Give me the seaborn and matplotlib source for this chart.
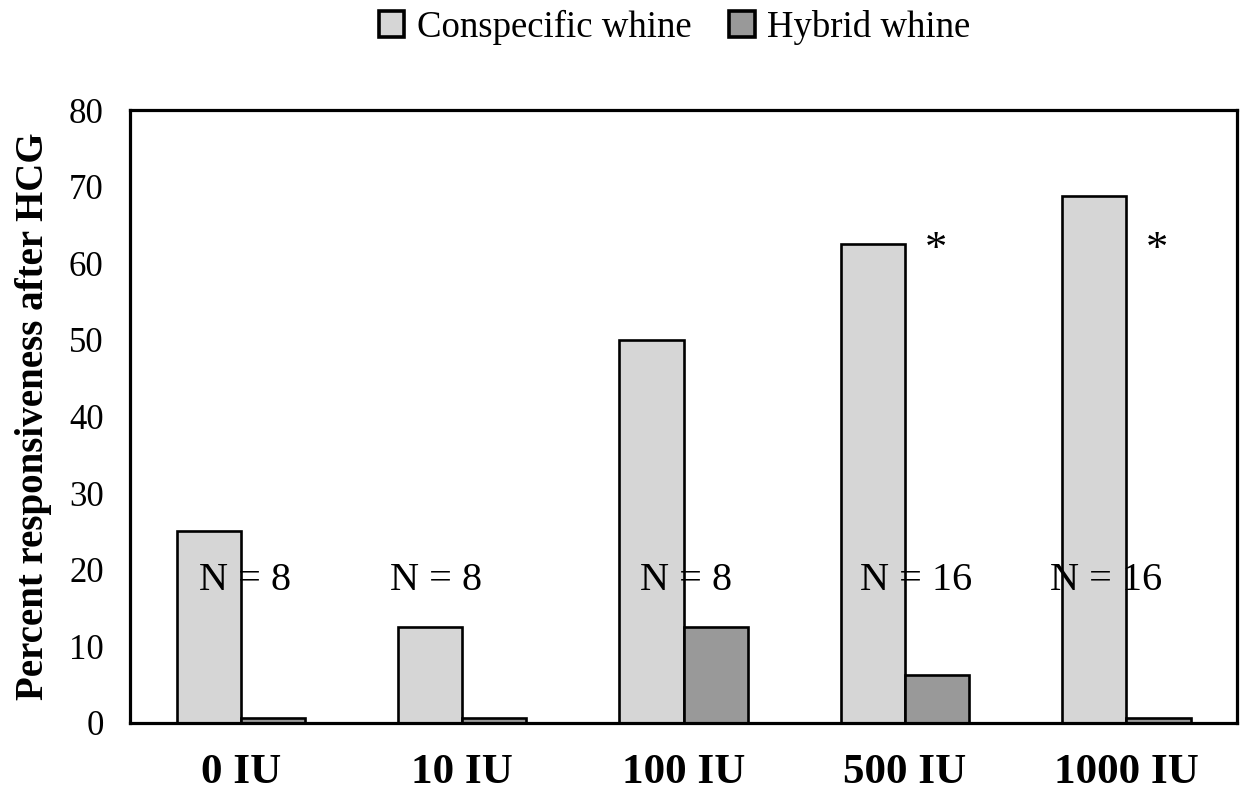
import matplotlib
matplotlib.use("Agg")
import matplotlib.pyplot as plt
import seaborn as sns
import pandas as pd

# Doses of HCG and percent of females responding to each whine type
doses = ["0 IU", "10 IU", "100 IU", "500 IU", "1000 IU"]
conspecific = [25.0, 12.5, 50.0, 62.5, 68.75]
hybrid = [0.6, 0.6, 12.5, 6.25, 0.6]
sample_sizes = ["N = 8", "N = 8", "N = 8", "N = 16", "N = 16"]
significant = [False, False, False, True, True]
series_names = ["Conspecific whine", "Hybrid whine"]

df = pd.DataFrame({
    "dose": doses * 2,
    "percent": conspecific + hybrid,
    "whine": [series_names[0]] * len(doses) + [series_names[1]] * len(doses),
})

sns.set_theme(style="white")
plt.rcParams["font.family"] = ["Liberation Serif", "DejaVu Serif"]
plt.rcParams["text.color"] = "black"
plt.rcParams["xtick.color"] = "black"
plt.rcParams["ytick.color"] = "black"
plt.rcParams["axes.labelcolor"] = "black"

fig = plt.figure(figsize=(12.42, 7.95), dpi=100)
ax = fig.add_axes([0.1047, 0.0906, 0.8913, 0.771])

sns.barplot(
    data=df, x="dose", y="percent", hue="whine", order=doses,
    hue_order=series_names, palette=["#d6d6d6", "#999999"],
    width=0.58, edgecolor="black", linewidth=1.9, saturation=1,
    errorbar=None, ax=ax,
)

ax.set_xlim(-0.5, len(doses) - 0.5)
ax.set_ylim(0, 80)
ax.set_yticks(range(0, 81, 10))
ax.tick_params(axis="y", direction="in", length=10, width=2, labelsize=25, pad=19,
               colors="black")
ax.tick_params(axis="x", length=0, labelsize=31, pad=22, colors="black")
for lbl in ax.get_xticklabels():
    lbl.set_fontweight("bold")
ax.set_xlabel("")
ax.set_ylabel("Percent responsiveness after HCG", fontsize=28, fontweight="bold",
              labelpad=12, color="black")
for sp in ax.spines.values():
    sp.set_visible(True)
    sp.set_color("black")
    sp.set_linewidth(2.3)

# sample size labels across each group
n_offsets = [0.02, -0.12, 0.01, 0.05, -0.09]
for i, (txt, dx) in enumerate(zip(sample_sizes, n_offsets)):
    ax.text(i + dx, 18.6, txt, ha="center", va="center", fontsize=29, color="black")

# significance markers
for i, sig in enumerate(significant):
    if sig:
        ax.text(i + 0.14, 61.7, "*", ha="center", va="center", fontsize=32, color="black")

sns.move_legend(
    ax, "center", bbox_to_anchor=(0.492, 1.135), ncol=2, frameon=False,
    title=None, fontsize=26.5, handlelength=0.7, handleheight=0.7,
    handletextpad=0.35, columnspacing=1.0,
)
for h in ax.get_legend().legend_handles:
    h.set_edgecolor("black")
    h.set_linewidth(2.6)

fig.savefig("out.png", dpi=100)
